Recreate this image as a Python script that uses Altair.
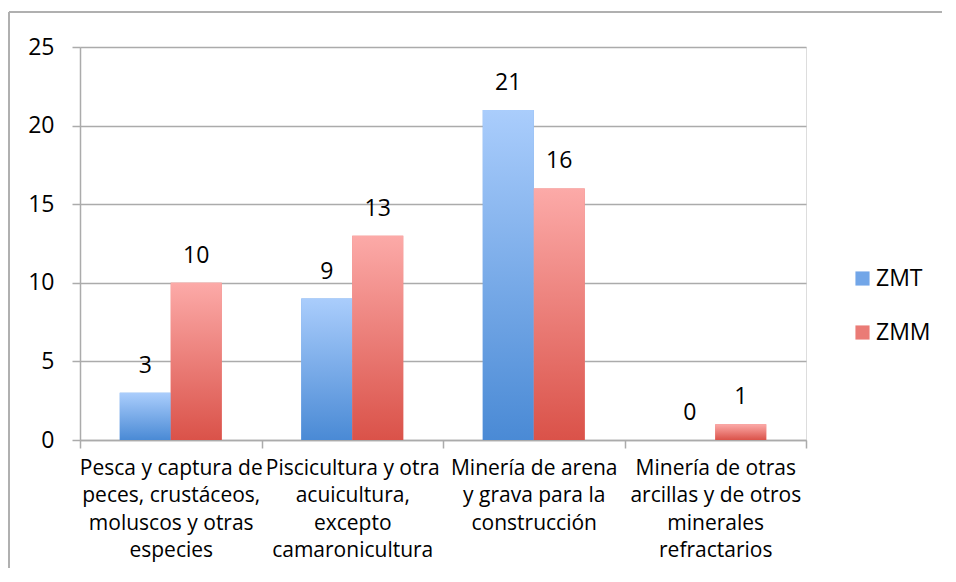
import altair as alt
import pandas as pd

categories = [
    "Pesca y captura de|peces, crustáceos,|moluscos y otras|especies",
    "Piscicultura y otra|acuicultura,|excepto|camaronicultura",
    "Minería de arena|y grava para la|construcción",
    "Minería de otras|arcillas y de otros|minerales|refractarios",
]
series = ["ZMT", "ZMM"]
zmt = [3, 9, 21, 0]
zmm = [10, 13, 16, 1]
y_ticks = [0, 5, 10, 15, 20, 25]

rows = []
for c, a, b in zip(categories, zmt, zmm):
    rows.append({"cat": c, "series": "ZMT", "value": a})
    rows.append({"cat": c, "series": "ZMM", "value": b})
df = pd.DataFrame(rows)

FONT = "Open Sans"
W, H = 726, 393
GRID = "#ababab"

x_enc = alt.X(
    "cat:N",
    sort=categories,
    scale=alt.Scale(paddingInner=0, paddingOuter=0),
    axis=alt.Axis(
        title=None,
        labelAngle=0,
        labelExpr="split(datum.label, '|')",
        labelFontSize=21,
        labelLineHeight=27.5,
        labelPadding=9,
        labelLimit=400,
        labelOverlap=False,
        labelColor="#000000",
        labelFont=FONT,
        tickBand="extent",
        tickSize=8,
        tickColor=GRID,
        tickWidth=1.5,
        domainColor=GRID,
        domainWidth=1.5,
        grid=False,
    ),
)
xoff_enc = alt.XOffset(
    "series:N",
    sort=series,
    scale=alt.Scale(domain=series, paddingOuter=0.78, paddingInner=0),
)
y_enc = alt.Y(
    "value:Q",
    scale=alt.Scale(domain=[0, 25], nice=False),
    axis=alt.Axis(
        title=None,
        values=y_ticks,
        labelFontSize=23,
        labelFont=FONT,
        labelColor="#000000",
        labelPadding=18,
        tickSize=8,
        tickColor=GRID,
        tickWidth=1.5,
        domainColor=GRID,
        domainWidth=1.5,
        gridColor=GRID,
        gridWidth=1.5,
    ),
)

base = alt.Chart(df)

legend_bars = base.mark_bar().encode(
    x=x_enc,
    xOffset=xoff_enc,
    y=y_enc,
    color=alt.Color(
        "series:N",
        sort=series,
        scale=alt.Scale(domain=series, range=["#72a6e8", "#ea7b76"]),
        legend=alt.Legend(
            title=None,
            orient="none",
            legendX=771,
            legendY=220,
            symbolType="square",
            symbolSize=200,
            symbolStrokeWidth=0,
            symbolOpacity=1,
            labelFontSize=23,
            labelFont=FONT,
            labelColor="#000000",
            labelOffset=2,
            rowPadding=30,
        ),
    ),
)


def grad(top, bottom):
    return alt.Gradient(
        gradient="linear",
        stops=[
            alt.GradientStop(offset=0, color=top),
            alt.GradientStop(offset=1, color=bottom),
        ],
        x1=0, x2=0, y1=0, y2=1,
    )


zmt_bars = base.transform_filter(alt.datum.series == "ZMT").mark_bar(
    color=grad("#aacdfc", "#4a8ad5")
).encode(x=x_enc, xOffset=xoff_enc, y=y_enc)

zmm_bars = base.transform_filter(alt.datum.series == "ZMM").mark_bar(
    color=grad("#fcaaa8", "#da5249")
).encode(x=x_enc, xOffset=xoff_enc, y=y_enc)

labels = base.mark_text(
    baseline="alphabetic", dy=-20, fontSize=23, font=FONT, color="#000000"
).encode(x=x_enc, xOffset=xoff_enc, y=y_enc, text="value:Q")

frame_left = alt.Chart(df).mark_rule(color="#b0b0b0", strokeWidth=1.5).encode(
    x=alt.value(-71), y=alt.value(-35), y2=alt.value(H + 300)
)
frame_top = alt.Chart(df).mark_rule(color="#b0b0b0", strokeWidth=1.5).encode(
    x=alt.value(-71), x2=alt.value(W + 300), y=alt.value(-35)
)

chart = (
    alt.layer(legend_bars, zmt_bars, zmm_bars, labels, frame_left, frame_top)
    .properties(
        width=W,
        height=H,
        autosize=alt.AutoSizeParams(type="none"),
        padding={"left": 72, "top": 39, "right": 136, "bottom": 128},
    )
    .configure_view(stroke=None)
    .configure(background="white")
)

chart.save("out.html", embed_options={"renderer": "svg", "actions": False})
